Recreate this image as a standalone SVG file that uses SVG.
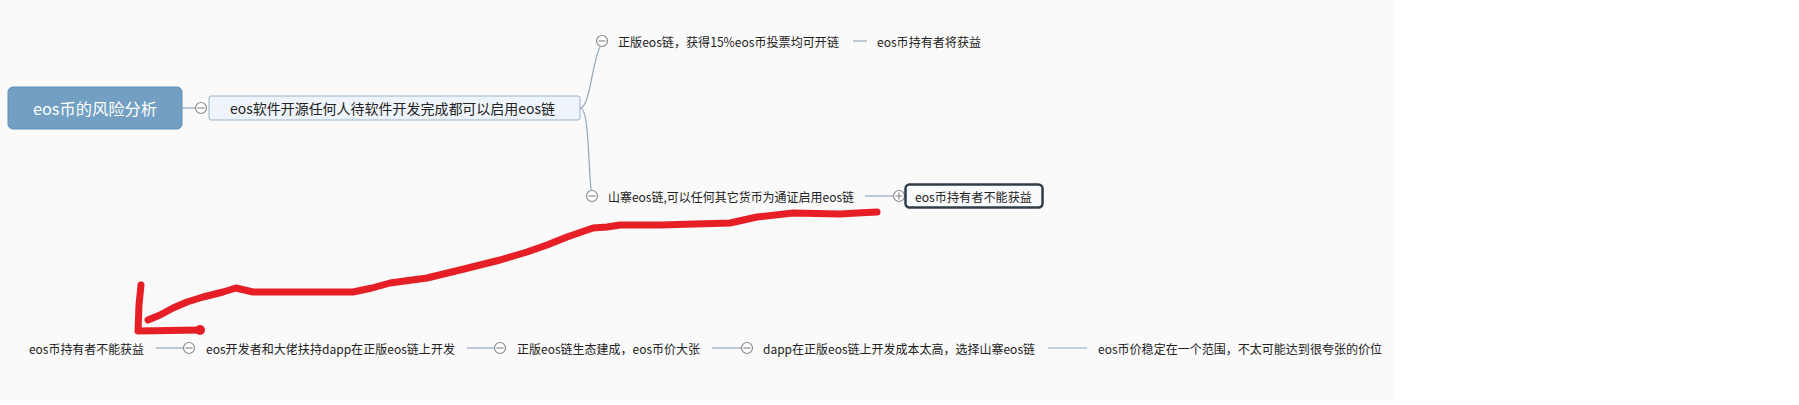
<svg xmlns="http://www.w3.org/2000/svg" width="1799" height="405" viewBox="0 0 1799 405">
<style>
.t{font-family:"Noto Sans CJK SC","Microsoft YaHei",sans-serif;font-size:12.5px;fill:#222;dominant-baseline:central}
.ln{stroke:#93a8bb;stroke-width:1.2;fill:none}
.tog{fill:#fff;stroke:#8a8a8a;stroke-width:1.2}
.sg{stroke:#8a8a8a;stroke-width:1.2}
.red{stroke:#e61f27;stroke-width:7;fill:none;stroke-linecap:round;stroke-linejoin:round}
</style>
<rect x="0" y="0" width="1799" height="405" fill="#ffffff"/>
<rect x="0" y="0" width="1393" height="400" fill="#fafafa"/>

<g id="connectors">
<path class="ln" d="M182,108 H195"/>
<path class="ln" d="M580,108 C590,108 592,62 600,47"/>
<path class="ln" d="M580,108 C589,108 588,160 591,190"/>
<path class="ln" d="M853,41 H867"/>
<path class="ln" d="M865,196 H893"/>
<path class="ln" d="M156,348 H183"/>
<path class="ln" d="M467,348 H494"/>
<path class="ln" d="M712,348 H741"/>
<path class="ln" d="M1048,348 H1087"/>
</g>

<g id="root">
<rect x="8" y="87" width="174" height="42" rx="5" fill="#729fc2" stroke="#6590b3" stroke-width="1"/>
<text x="95" y="108" text-anchor="middle" style="font-family:'Noto Sans CJK SC','Microsoft YaHei',sans-serif;font-size:16px;fill:#fff;dominant-baseline:central" textLength="124" lengthAdjust="spacingAndGlyphs">eos币的风险分析</text>
</g>

<g id="main">
<circle class="tog" cx="201" cy="108" r="5.5"/><path class="sg" d="M197.5,108 H204.5"/>
<rect x="209" y="96" width="371" height="24" rx="2" fill="#eef4f9" stroke="#9cb4ca" stroke-width="1"/>
<text class="t" x="230" y="108" style="font-size:14px" textLength="325" lengthAdjust="spacingAndGlyphs">eos软件开源任何人待软件开发完成都可以启用eos链</text>
</g>

<g id="official">
<circle class="tog" cx="602" cy="41" r="5.5"/><path class="sg" d="M598.5,41 H605.5"/>
<text class="t" x="618" y="41" textLength="221" lengthAdjust="spacingAndGlyphs">正版eos链，获得15%eos币投票均可开链</text>
</g>
<g id="official-gain">
<text class="t" x="877" y="41" textLength="104" lengthAdjust="spacingAndGlyphs">eos币持有者将获益</text>
</g>

<g id="copycat">
<circle class="tog" cx="592" cy="196" r="5.5"/><path class="sg" d="M588.5,196 H595.5"/>
<text class="t" x="608" y="196" textLength="246" lengthAdjust="spacingAndGlyphs">山寨eos链,可以任何其它货币为通证启用eos链</text>
</g>
<g id="copycat-nogain">
<circle class="tog" cx="899" cy="196" r="5.5"/><path class="sg" d="M895.5,196 H902.5 M899,192.5 V199.5"/>
<rect x="905.5" y="184.5" width="137" height="23" rx="4" fill="#f9fafb" stroke="#2f3d49" stroke-width="2.5"/>
<text class="t" x="915" y="196" textLength="117" lengthAdjust="spacingAndGlyphs">eos币持有者不能获益</text>
</g>

<g id="n-nogain">
<text class="t" x="29" y="348" textLength="115" lengthAdjust="spacingAndGlyphs">eos币持有者不能获益</text>
</g>
<g id="n-dev">
<circle class="tog" cx="189" cy="348" r="5.5"/><path class="sg" d="M185.5,348 H192.5"/>
<text class="t" x="206" y="348" textLength="249" lengthAdjust="spacingAndGlyphs">eos开发者和大佬扶持dapp在正版eos链上开发</text>
</g>
<g id="n-eco">
<circle class="tog" cx="500" cy="348" r="5.5"/><path class="sg" d="M496.5,348 H503.5"/>
<text class="t" x="517" y="348" textLength="183" lengthAdjust="spacingAndGlyphs">正版eos链生态建成，eos币价大张</text>
</g>
<g id="n-cost">
<circle class="tog" cx="747" cy="348" r="5.5"/><path class="sg" d="M743.5,348 H750.5"/>
<text class="t" x="763" y="348" textLength="272" lengthAdjust="spacingAndGlyphs">dapp在正版eos链上开发成本太高，选择山寨eos链</text>
</g>
<g id="n-stable">
<text class="t" x="1098" y="348" textLength="284" lengthAdjust="spacingAndGlyphs">eos币价稳定在一个范围，不太可能达到很夸张的价位</text>
</g>

<g id="annotation">
<path class="red" d="M877,212 L857,213 L840,214 L793,213 L757,217 L730,223 L660,225 L620,225 L607,227 L593,228 L567,237 L547,245 L527,252 L500,260 L460,270 L427,278 L390,283 L372,288 L353,292 L253,292 L236,288 L223,292 L203,297 L187,302 L173,308 L160,315 L148,320"/>
<path class="red" d="M141,285 L139,305 L138,331 L200,330"/>
<circle cx="200" cy="330" r="5" fill="#e61f27"/>
</g>
</svg>
